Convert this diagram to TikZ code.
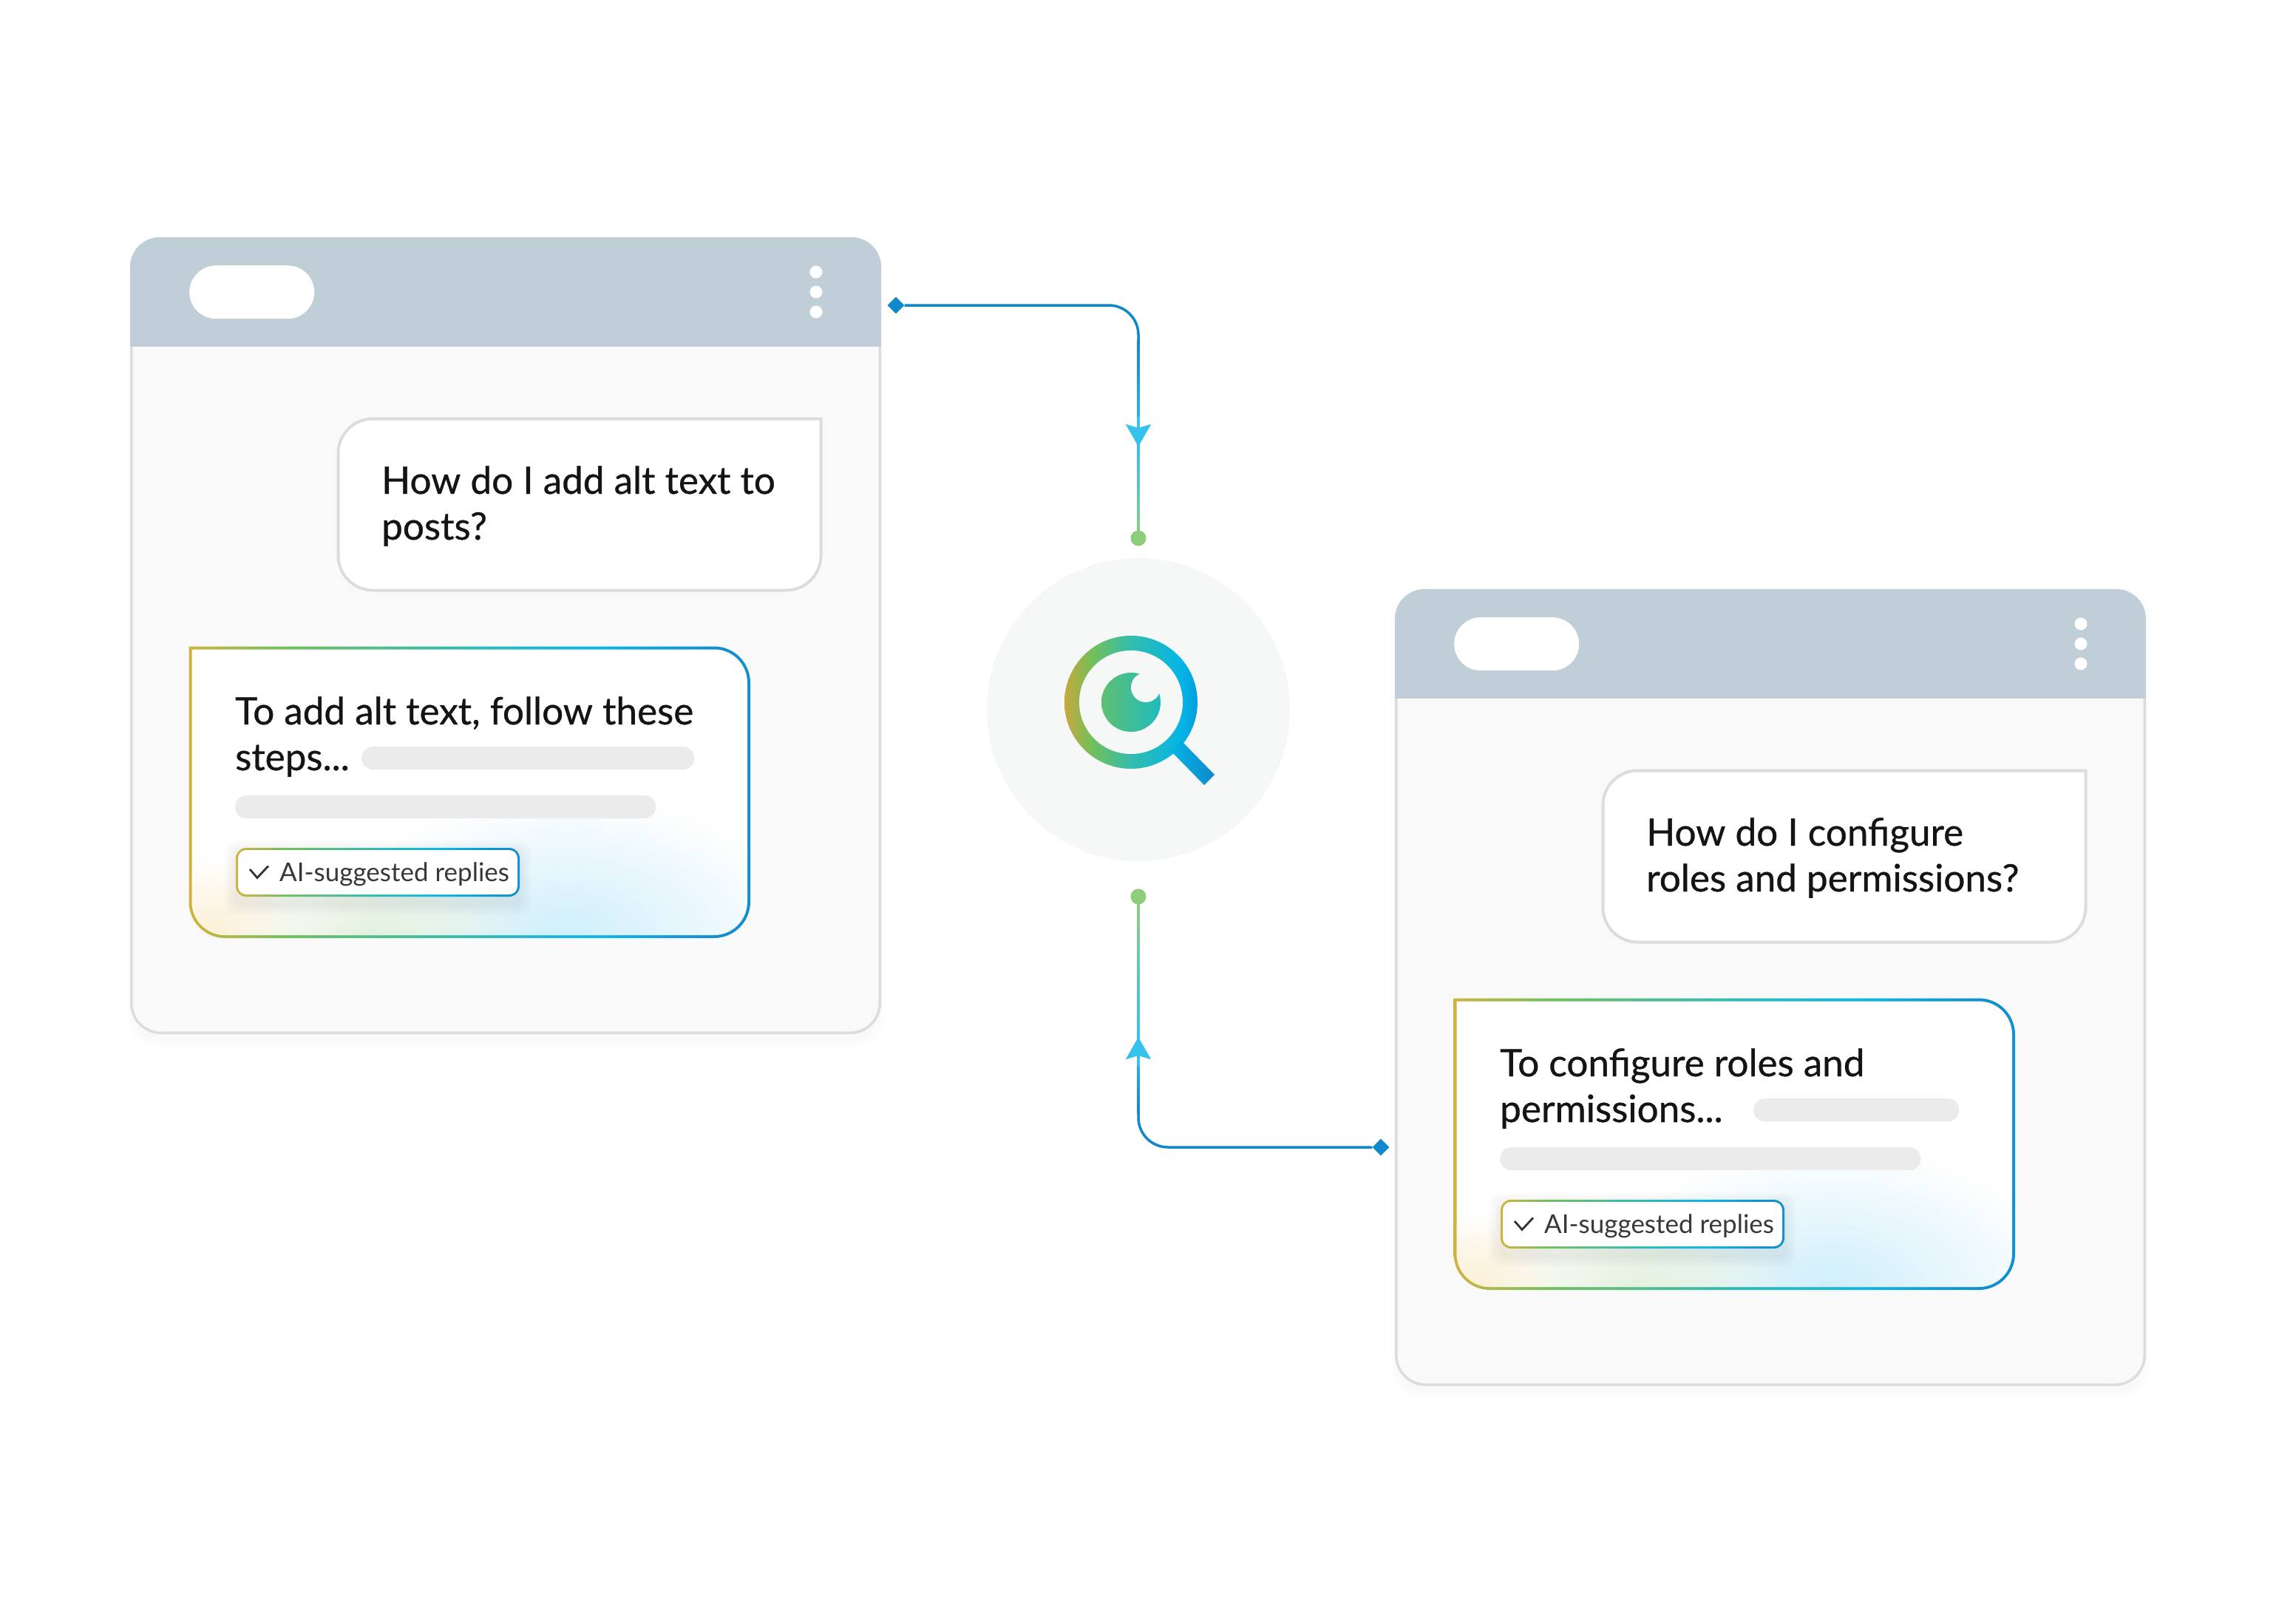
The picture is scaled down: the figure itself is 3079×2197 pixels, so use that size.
\documentclass[tikz,border=0pt]{standalone}
\usepackage{fontspec}
\setmainfont[FakeBold=0.6]{Lato}
\newfontfamily\chipfont{Lato}
\usetikzlibrary{calc,shapes.geometric,arrows.meta,positioning,fadings}

\definecolor{headerblue}{HTML}{BFCED7}
\definecolor{bodygray}{HTML}{F9F9F9}
\definecolor{edgegray}{HTML}{DCDCDC}
\definecolor{bargray}{HTML}{EBEBEB}
\definecolor{lensgray}{HTML}{F6F7F7}
\definecolor{linkblue}{HTML}{1188CC}
\definecolor{linkcyan}{HTML}{35C3EE}
\definecolor{linkgreen}{HTML}{8ECE7A}
\definecolor{pupilgreen}{HTML}{5FBF72}
\definecolor{pupilteal}{HTML}{1FBBBE}
\definecolor{handlecyan}{HTML}{05B5E5}
\definecolor{handleblue}{HTML}{0E88CC}
\definecolor{glowblue}{HTML}{CFEFFB}
\definecolor{glowgreen}{HTML}{E4F1DE}
\definecolor{glowgold}{HTML}{FCF0D6}
\colorlet{chartcolor}{black!80}

\pgfdeclarehorizontalshading{brandline}{100bp}{
	rgb(0bp)=(0.82,0.70,0.24); rgb(25bp)=(0.82,0.70,0.24); rgb(33.5bp)=(0.45,0.75,0.37);
	rgb(50.5bp)=(0.18,0.73,0.72); rgb(61.5bp)=(0.05,0.71,0.90); rgb(71.5bp)=(0.07,0.56,0.81);
	rgb(75bp)=(0.07,0.56,0.81); rgb(100bp)=(0.07,0.56,0.81)}
\pgfdeclarehorizontalshading{brandring}{100bp}{
	rgb(0bp)=(0.78,0.66,0.24); rgb(25bp)=(0.78,0.66,0.24); rgb(35.3bp)=(0.45,0.75,0.35);
	rgb(50bp)=(0.20,0.74,0.68); rgb(68.6bp)=(0.02,0.71,0.90); rgb(75bp)=(0.02,0.62,0.87);
	rgb(100bp)=(0.02,0.62,0.87)}
\tikzfading[name=glowfade, inner color=transparent!0, outer color=transparent!100]

% #1 = inset of the outline
\newcommand{\cardoutline}[1]{({79.5+#1},700) [sharp corners] -- ({79.5+#1},{553.5+#1}) [rounded corners={49pt-#1pt}] -- ({839-#1},{553.5+#1}) -- ({839-#1},{948-#1}) -- ({79.5+#1},{948-#1}) -- cycle}
\newcommand{\bubbleoutline}[1]{({279.5+#1},360) [rounded corners={49pt-#1pt}] -- ({279.5+#1},{243.5+#1}) [sharp corners] -- ({936.5-#1},{243.5+#1}) [rounded corners={49pt-#1pt}] -- ({936.5-#1},{479.5-#1}) -- ({279.5+#1},{479.5-#1}) -- cycle}

% #1 prefix, #2 #3 shift, #4 question, #5 answer, #6 start of first bar
\newcommand{\chatwindow}[6]{
	\begin{scope}[shift={(#2,#3)}, name prefix=#1-]
		\foreach \d in {2,4,...,12}
		\fill [black, opacity=0.005, rounded corners=40pt] ({6-\d},{10-\d}) rectangle ({1010+\d},{1078+6+\d});
		\node [windowbox, anchor=north west] (win) at (0,0) {};
		\begin{scope}
			\clip [rounded corners=40pt] (0,0) rectangle (1016,300);
			\fill [headerblue] (0,0) rectangle (1016,148);
		\end{scope}
		\node [pill, anchor=north west] (tab) at (80,38) {};
		\foreach \y in {47,74,101}
		\node [menudot] (menu\y) at (928,\y) {};
		
		\fill [edgegray] \bubbleoutline{0};
		\fill [white] \bubbleoutline{4};
		\node [question, anchor=base west] (ask) at (340,409) {#4};
		
		\shade [shading=brandline] \cardoutline{0};
		\fill [white] \cardoutline{4};
		\begin{scope}
			\clip \cardoutline{4};
			\fill [path fading=glowfade, color=glowblue] (590,946) ellipse (320 and 190);
			\fill [path fading=glowfade, color=glowgreen] (330,946) ellipse (210 and 100);
			\fill [path fading=glowfade, color=glowgold] (110,940) ellipse (120 and 100);
		\end{scope}
		\node [question, anchor=base west] (reply) at (142,721) {#5};
		\node [bar, anchor=north west, minimum width={763pt-#6pt}] (barone) at (#6,689) {};
		\node [bar, anchor=north west, minimum width=569pt] (bartwo) at (142,755) {};
		
		\foreach \d in {4,8,...,32}
		\fill [black, opacity=0.008, rounded corners=14pt] ({143-\d/2},{826+6-\d/2}) rectangle ({527+\d/2},{892+10+\d/2});
		\shade [shading=brandline, rounded corners=14pt] (143,826) rectangle (527,892);
		\fill [white, rounded corners=11pt] (146,829) rectangle (524,889);
		\node [chiptext, anchor=base west] (chip) at (202,871) {AI-suggested replies};
		\draw [chartcolor, line width=2.8pt] (162,855) -- (172,866.5) -- (187,850.5);
	\end{scope}
}

\begin{document}
\begin{tikzpicture}[x=1pt, y=-1pt, >={Stealth[length=30pt, width=34pt, inset=5pt]}]
	
	\tikzstyle{windowbox} = [rectangle, draw=edgegray, line width=3.5pt, fill=bodygray, rounded corners=40pt, minimum width=1012.5pt, minimum height=1074.5pt, inner sep=0]
	\tikzstyle{pill} = [rectangle, fill=white, rounded corners=36pt, minimum width=169pt, minimum height=72pt, inner sep=0]
	\tikzstyle{menudot} = [circle, fill=white, minimum size=17pt, inner sep=0]
	\tikzstyle{bar} = [rectangle, fill=bargray, rounded corners=15pt, minimum height=31pt, inner sep=0]
	\tikzstyle{question} = [align=left, inner sep=0, text=black!92, font=\fontsize{51.2}{62}\selectfont]
	\tikzstyle{chiptext} = [inner sep=0, text=black!78, font=\chipfont\fontsize{35}{40}\selectfont]
	\tikzstyle{lens} = [circle, fill=lensgray, minimum size=410pt, inner sep=0]
	\tikzstyle{port} = [diamond, fill=linkblue, minimum size=23pt, inner sep=0]
	\tikzstyle{stub} = [circle, fill=linkgreen, minimum size=21pt, inner sep=0]
	\tikzstyle{link} = [draw=linkblue, line width=3.5pt, rounded corners=40pt]
	
	\path [use as bounding box, fill=white] (0,0) rectangle (3079,2197);
	
	\chatwindow{left}{176}{321}{How do I add alt text to\\posts?}{To add alt text, follow these\\steps...}{313}
	\chatwindow{right}{1887}{797}{How do I configure\\roles and permissions?}{To configure roles and\\permissions...}{485}
	
	\node [lens] (search) at (1540,960) {};
	\node [stub, above = 16pt of search] (stubtop) {};
	\node [stub, below = 37pt of search] (stubbottom) {};
	\node [port] (porttop) at (1212,413) {};
	\node [port] (portbottom) at (1868,1552) {};
	\coordinate (kneetop) at (1540,460);
	\coordinate (kneebottom) at (1540,1505);
	\coordinate (tiptop) at (1540,604);
	\coordinate (tipbottom) at (1540,1403);
	
	% magnifier
	\shade [shading=brandring] (1530,950) circle (90);
	\fill [lensgray] (1530,950) circle (70);
	\shade [left color=pupilgreen, right color=pupilteal] (1530,950) circle (40);
	\fill [lensgray] (1550,930) circle (20);
	\shade [left color=handlecyan, right color=handleblue] (1598,1002) -- (1643,1048) -- (1629,1062) -- (1584,1016) -- cycle;
	
	% connectors
	\draw [link] (porttop) -| (kneetop);
	\shade [top color=linkblue, bottom color=linkcyan] ($(kneetop)+(-1.75,0)$) rectangle ($(tiptop)+(1.75,0)$);
	\shade [top color=linkcyan, bottom color=linkgreen] ($(tiptop)+(-1.75,0)$) rectangle ($(stubtop)+(1.75,0)$);
	\draw [->, draw=linkcyan, line width=3.5pt] ($(tiptop)+(0,-40)$) -- (tiptop);
	
	\draw [link] (portbottom) -| (kneebottom);
	\shade [top color=linkcyan, bottom color=linkblue] ($(tipbottom)+(-1.75,0)$) rectangle ($(kneebottom)+(1.75,0)$);
	\shade [top color=linkgreen, bottom color=linkcyan] ($(stubbottom)+(-1.75,0)$) rectangle ($(tipbottom)+(1.75,0)$);
	\draw [->, draw=linkcyan, line width=3.5pt] ($(tipbottom)+(0,40)$) -- (tipbottom);
	
\end{tikzpicture}
\end{document}
